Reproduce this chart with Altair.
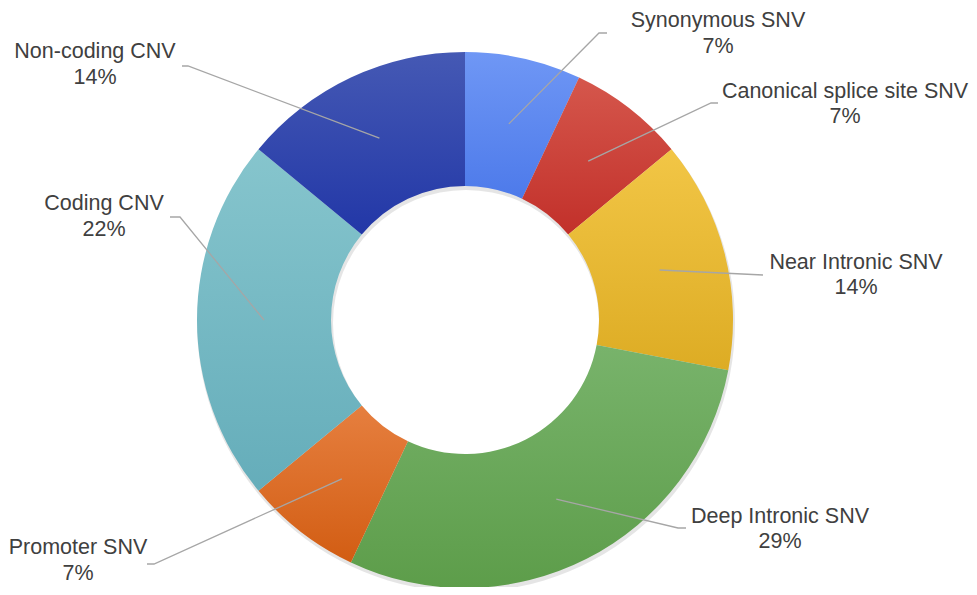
import altair as alt
import numpy as np
import pandas as pd

# ---- data ----
names = ["Synonymous SNV", "Canonical splice site SNV", "Near Intronic SNV",
         "Deep Intronic SNV", "Promoter SNV", "Coding CNV", "Non-coding CNV"]
values = [7, 7, 14, 29, 7, 22, 14]

# ---- style ----
top_colors = ["#6F97F5", "#D5574C", "#F2C646", "#78B36B", "#E67F3F", "#86C5CD", "#4559B4"]
bottom_colors = ["#4D7AEA", "#C2302A", "#DDAC24", "#5D9D4A", "#D25D13", "#65ADBA", "#2237A7"]

# ---- layout (page pixel coordinates) ----
CX, CY = 465, 320
R_OUT, R_IN = 268, 134
label_x = [718, 845, 856, 780, 78, 104, 95]
label_y = [34, 104.5, 275.5, 529.5, 561, 217, 65]
elbow_x = [599, 711, 763, 678, 154, 180, 188]
elbow_y = [33, 103, 275, 528, 564, 217, 66]
end_x = [607, 718, 763, 686, 147, 170, 182]
end_y = [33, 103, 275, 528, 564, 217, 66]

W, H = 961, 579
xs = alt.Scale(domain=[8, 8 + W])
ys = alt.Scale(domain=[8 + H, 8])

total = float(sum(values))
cum = np.concatenate([[0], np.cumsum(values)])
df = pd.DataFrame({
    "name": names,
    "value": values,
    "start": cum[:-1] / total * 100,
    "end": cum[1:] / total * 100,
    "pct": [f"{v}%" for v in values],
    "lx": label_x,
    "ly": label_y,
})

# leader lines: inner point computed from slice mid-angle
rows = []
r_mid = (R_OUT + R_IN) / 2
for i, n in enumerate(names):
    mid = (cum[i] + cum[i + 1]) / 2 / total * 2 * np.pi
    ix = CX + r_mid * np.sin(mid)
    iy = CY - r_mid * np.cos(mid)
    rows.append({"name": n, "k": 0, "x": ix, "y": iy})
    rows.append({"name": n, "k": 1, "x": elbow_x[i], "y": elbow_y[i]})
    rows.append({"name": n, "k": 2, "x": end_x[i], "y": end_y[i]})
lines_df = pd.DataFrame(rows)

theta_scale = alt.Scale(domain=[0, 100], range=[0, 2 * np.pi])

base = alt.Chart(df)

shadow = alt.Chart(pd.DataFrame({"s": [0], "e": [100]})).mark_arc(
    outerRadius=R_OUT + 1, innerRadius=R_IN - 1, color="#000000", opacity=0.10
).encode(
    theta=alt.Theta("s:Q", scale=theta_scale, stack=None),
    theta2="e:Q",
    x=alt.value(CX - 8 + 1), y=alt.value(CY - 8 + 3),
)

slices = []
for i, n in enumerate(names):
    grad = alt.Gradient(
        gradient="linear",
        stops=[alt.GradientStop(color=top_colors[i], offset=0),
               alt.GradientStop(color=bottom_colors[i], offset=1)],
        x1=0, x2=0, y1=0, y2=1,
    )
    s = base.transform_filter(alt.datum.name == n).mark_arc(
        outerRadius=R_OUT, innerRadius=R_IN, color=grad
    ).encode(
        theta=alt.Theta("start:Q", scale=theta_scale, stack=None),
        theta2="end:Q",
        x=alt.value(CX - 8), y=alt.value(CY - 8),
    )
    slices.append(s)

leaders = alt.Chart(lines_df).mark_line(color="#A6A6A6", strokeWidth=1.3).encode(
    x=alt.X("x:Q", scale=xs, axis=None),
    y=alt.Y("y:Q", scale=ys, axis=None),
    detail="name:N",
    order="k:Q",
)

txt_kw = dict(font="Liberation Sans", fontSize=21.5, color="#404040",
              align="center", baseline="middle")
name_txt = base.mark_text(dy=-12.75, **txt_kw).encode(
    x=alt.X("lx:Q", scale=xs, axis=None),
    y=alt.Y("ly:Q", scale=ys, axis=None),
    text="name:N",
)
pct_txt = base.mark_text(dy=12.75, **txt_kw).encode(
    x=alt.X("lx:Q", scale=xs, axis=None),
    y=alt.Y("ly:Q", scale=ys, axis=None),
    text="pct:N",
)

chart = alt.layer(shadow, *slices, leaders, name_txt, pct_txt).properties(
    width=W, height=H, autosize="none", padding=0
).configure_view(stroke=None)

chart.save("out.html", embed_options={"renderer": "svg", "actions": False})
